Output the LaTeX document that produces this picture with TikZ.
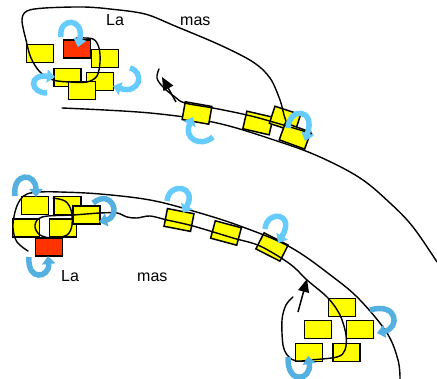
\documentclass[tikz,border=0pt]{standalone}
\usepackage{fontspec}
\setmainfont{Liberation Sans}
\usetikzlibrary{arrows.meta}
\definecolor{byel}{RGB}{255,255,0}
\definecolor{bred}{RGB}{255,51,0}
\definecolor{lblue}{RGB}{102,204,255}
\definecolor{dblue}{RGB}{85,176,226}
\tikzset{
  ybox/.style={draw=black, line width=1.5pt, fill=byel, minimum width=27pt, minimum height=18pt, inner sep=0pt, outer sep=0pt},
  rbox/.style={ybox, fill=bred},
  track/.style={line width=1.4pt, line cap=round, line join=round},
  barrow/.style={draw=lblue, line width=5.5pt, -{Triangle[width=13pt,length=8pt]}},
  darrow/.style={barrow, draw=dblue},
  karrow/.style={line width=1.5pt, -{Triangle[width=11pt,length=13pt]}},
  lbl/.style={font=\fontsize{16}{16}\selectfont, inner sep=0pt, anchor=base west}
}
\begin{document}
\begin{tikzpicture}[x=1pt,y=-1pt]
\useasboundingbox (0,0) rectangle (437,379);

% ---------- top track: lower line (under boxes)
\draw[track] plot[smooth, tension=0.6] coordinates {(62,108) (150,113) (217,123) (280,142) (320,157) (360,178) (390,203) (413,227) (437,262)};

% top track boxes
\node[ybox, rotate=-10] (t1) at (197,113) {};
\node[ybox, rotate=-13] (t2) at (258,123) {};
\node[ybox, rotate=-18] (t3) at (285,119) {};
\node[ybox, rotate=-20] (t4) at (295,136) {};

% top track upper line with hook
\draw[track] plot[smooth, tension=0.6] coordinates {(159,69) (157,78) (163,87) (175,97) (185,103) (213,108) (247,115) (273,122) (300,130) (312,134)};

% top cluster boxes
\node[ybox] (y1) at (40,53.5) {};
\node[rbox] (r1) at (77,49) {};
\node[ybox] (y2) at (105,58.5) {};
\node[ybox] (y3) at (67.5,77.5) {};
\node[ybox] (y4) at (100,81.5) {};
\node[ybox] (y5) at (82,90.5) {};

% big top loop
\draw[track] plot[smooth, tension=0.55] coordinates {(76,38) (93,39) (99,48) (100,62) (97,76) (87,82) (70,82) (53,80) (40,72) (31,58) (26,40) (22,20) (27,11) (45,8) (83,7) (110,9) (145,14) (175,26) (220,45) (253,62) (270,78) (280,100) (284,115) (287,124)};

% top black arrow
\coordinate (ka1s) at (176,102);
\coordinate (ka1e) at (162,77);
\draw[karrow] (ka1s) -- (ka1e);

% top labels
\node[lbl] (la1) at (106,26) {La};
\node[lbl] (mas1) at (180,26) {mas};

% top blue arrows
\draw[barrow] (61,37) .. controls (58,17) and (85,17) .. (78,47);
\draw[barrow] (47,93) .. controls (30,93) and (28,74) .. (55,77);
\draw[barrow] (130,68) .. controls (145,72) and (140,95) .. (113,86);
\draw[barrow] (213,137) .. controls (200,148) and (183,138) .. (193,117);
\draw[barrow] (288,128) .. controls (289,107) and (316,108) .. (305,141);

% ---------- bottom clusters and track
\node[ybox] (a1) at (35,205.5) {};
\node[ybox] (b1) at (67.5,205.5) {};
\node[ybox] (d1) at (26,228) {};
\node[ybox] (e1) at (63,228) {};
\node[ybox] (c1) at (86.5,215) {};
\node[rbox] (r2) at (49,247) {};

\node[ybox, rotate=-11] (bt1) at (179,220) {};
\node[ybox, rotate=-15] (bt2) at (226,233) {};
\node[ybox, rotate=-27] (bt3) at (272,247) {};

\node[ybox] (q1) at (342,307.5) {};
\node[ybox] (q2) at (318,329.5) {};
\node[ybox] (q3) at (360,329.5) {};
\node[ybox] (q4) at (309,352.5) {};
\node[ybox] (q5) at (346.5,352.5) {};

% upper line of bottom track
\draw[track] plot[smooth, tension=0.6] coordinates {(28,251) (17,242) (13,228) (15,212) (20,200) (27,194) (40,192) (60,192) (100,194) (150,200) (193,211) (240,226) (290,247) (333,277) (360,300) (387,333) (398,360) (400,379)};

% lower line of bottom track (spiral to loop)
\draw[track] plot[smooth, tension=0.55] coordinates {(53,198) (65,201) (71,210) (72,225) (67,235) (52,238) (40,235) (35,227) (38,219) (48,216) (73,215) (100,213) (117,213) (127,217) (137,218) (150,216) (167,220) (193,226) (233,238) (260,246) (290,264) (307,280) (328,298) (340,315) (346,335) (345,350) (337,357) (310,360) (296,361) (288,356) (283,345) (282,320) (286,305) (293,297)};

% bottom black arrow
\coordinate (ka2s) at (298,312);
\coordinate (ka2e) at (307,279);
\draw[karrow] (ka2s) -- (ka2e);

% bottom labels
\node[lbl] (la2) at (61,282) {La};
\node[lbl] (mas2) at (137,282) {mas};

% bottom blue arrows
\draw[darrow] (15,196) .. controls (12,172) and (36,172) .. (36,197);
\draw[darrow] (93,203) .. controls (112,188) and (122,216) .. (99,222);
\draw[darrow] (29,257) .. controls (27,282) and (50,278) .. (48,256);
\draw[barrow] (167,201) .. controls (169,181) and (198,186) .. (183,213);
\draw[barrow] (265,229) .. controls (267,209) and (296,213) .. (278,243);
\draw[darrow] (370,310) .. controls (398,302) and (400,328) .. (377,333);
\draw[darrow] (288,357) .. controls (287,386) and (312,380) .. (308,356);
\end{tikzpicture}
\end{document}
